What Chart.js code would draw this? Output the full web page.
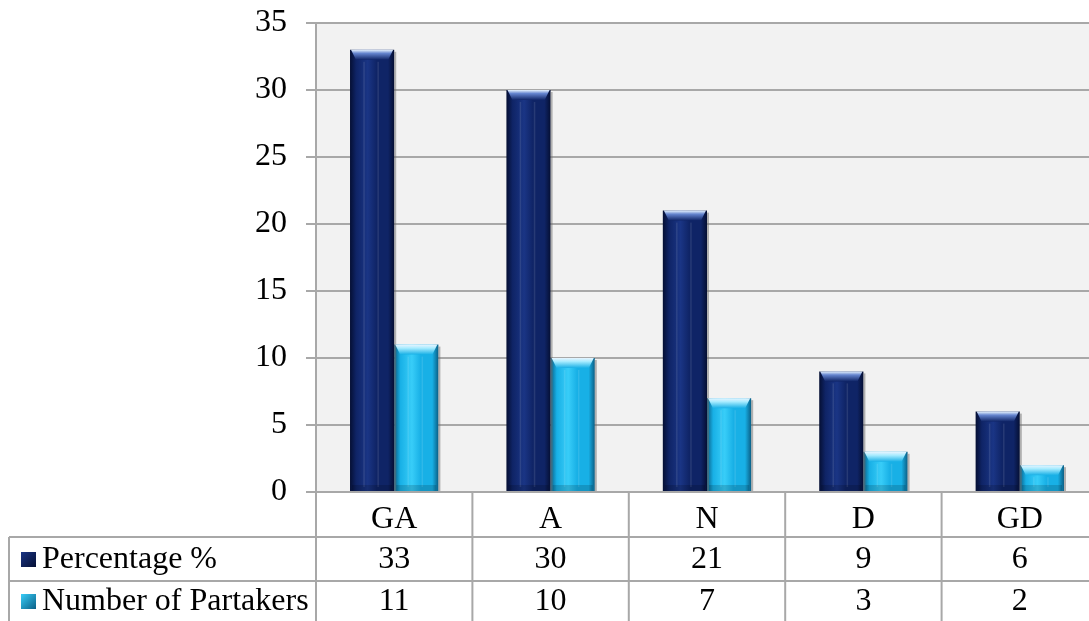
<!DOCTYPE html>
<html>
<head>
<meta charset="utf-8">
<script src="https://cdn.jsdelivr.net/npm/chart.js@4"></script>
<style>
  html, body { margin: 0; padding: 0; background: #ffffff; overflow: hidden; }
  #wrap { width: 1098px; height: 621px; }
</style>
</head>
<body>
<div id="wrap"><canvas id="c" width="1098" height="621"></canvas></div>
<script>
// Survey responses per answer category
const categories = ['GA', 'A', 'N', 'D', 'GD'];
const percentValues = [33, 30, 21, 9, 6];
const partakerValues = [11, 10, 7, 3, 2];
const seriesNames = ['Percentage %', 'Number of Partakers'];
const yTicks = [0, 5, 10, 15, 20, 25, 30, 35];

const FONT = "'Liberation Serif', 'Times New Roman', serif";
const FONT_SIZE = 32;
const GRID = '#a8a8a8';

// colour ramps for the bevelled bars: edge, mid, highlight
const palettes = [
  { edge: '#050f33', mid: '#0f2466', hi: '#1a3585', cap: '#6585cf' },
  { edge: '#0a5f86', mid: '#18b0e6', hi: '#38cdf8', cap: '#a8ecff' }
];

function barGradient(ctx, x0, x1, p) {
  const g = ctx.createLinearGradient(x0, 0, x1, 0);
  g.addColorStop(0, p.edge);
  g.addColorStop(0.14, p.mid);
  g.addColorStop(0.4, p.hi);
  g.addColorStop(0.6, p.mid);
  g.addColorStop(0.86, p.mid);
  g.addColorStop(1, p.edge);
  return g;
}

const plotBackground = {
  id: 'plotBackground',
  beforeDraw(chart) {
    const { ctx, chartArea: a } = chart;
    ctx.save();
    ctx.fillStyle = '#f2f2f2';
    ctx.fillRect(a.left, a.top, a.right - a.left, a.bottom - a.top);
    ctx.restore();
  }
};

// gives every bar its own horizontal shading and a light cap on top
const bevelBars = {
  id: 'bevelBars',
  beforeDatasetsDraw(chart) {
    const ctx = chart.ctx;
    chart.data.datasets.forEach((ds, di) => {
      chart.getDatasetMeta(di).data.forEach(el => {
        const x0 = el.x - el.width / 2, x1 = el.x + el.width / 2;
        const own = Object.assign({}, el.options);
        own.backgroundColor = barGradient(ctx, x0, x1, palettes[di]);
        el.options = own;
      });
    });
  },
  afterDatasetsDraw(chart) {
    const ctx = chart.ctx;
    ctx.save();
    chart.data.datasets.forEach((ds, di) => {
      const p = palettes[di];
      chart.getDatasetMeta(di).data.forEach(el => {
        const x0 = el.x - el.width / 2, x1 = el.x + el.width / 2, w = el.width;
        const top = el.y;
        // soft grey shadow on the right side
        ctx.fillStyle = 'rgba(110,110,110,0.5)';
        ctx.fillRect(x1, top + 2, 2, el.base - top - 2);
        // bevel cap
        const cap = ctx.createLinearGradient(0, top, 0, top + 10);
        cap.addColorStop(0, '#e8f4ff');
        cap.addColorStop(0.35, p.cap);
        cap.addColorStop(1, p.mid);
        ctx.fillStyle = cap;
        ctx.beginPath();
        ctx.moveTo(x0 + 1, top);
        ctx.lineTo(x1 - 1, top);
        ctx.lineTo(x1 - 6, top + 10);
        ctx.lineTo(x0 + 6, top + 10);
        ctx.closePath();
        ctx.fill();
        // thin inner stripes
        ctx.fillStyle = 'rgba(255,255,255,0.1)';
        ctx.fillRect(x0 + w * 0.3, top + 12, 1.5, el.base - top - 16);
        ctx.fillRect(x0 + w * 0.62, top + 12, 1.5, el.base - top - 16);
        // darker foot
        ctx.fillStyle = 'rgba(0,0,0,0.15)';
        ctx.fillRect(x0 + 2, el.base - 6, w - 4, 6);
      });
    });
    ctx.restore();
  }
};

// data table under the category axis
const dataTable = {
  id: 'dataTable',
  afterDraw(chart) {
    const ctx = chart.ctx;
    const xs = chart.scales.x;
    const a = chart.chartArea;
    const rowTop = [537, 581];
    const bottom = chart.height;
    const right = chart.width;
    const tableLeft = 9;
    const step = xs.getPixelForValue(1) - xs.getPixelForValue(0);
    ctx.save();
    ctx.strokeStyle = GRID;
    ctx.lineWidth = 2;
    ctx.beginPath();
    rowTop.forEach(y => { ctx.moveTo(tableLeft, y); ctx.lineTo(right, y); });
    ctx.moveTo(tableLeft, rowTop[0]);
    ctx.lineTo(tableLeft, bottom);
    for (let i = 0; i <= categories.length; i++) {
      const x = xs.getPixelForValue(0) - step / 2 + i * step;
      ctx.moveTo(x, a.bottom);
      ctx.lineTo(x, bottom);
    }
    ctx.stroke();

    const rows = [percentValues, partakerValues];
    ctx.font = FONT_SIZE + 'px ' + FONT;
    ctx.fillStyle = '#000000';
    ctx.textBaseline = 'middle';
    rows.forEach((vals, r) => {
      const cy = r === 0 ? 560 : 602;
      // legend key
      const kx = 21, ky = cy - 8, ks = 15;
      const g = ctx.createLinearGradient(kx, ky, kx + ks, ky + ks);
      g.addColorStop(0, palettes[r].hi);
      g.addColorStop(1, palettes[r].edge);
      ctx.fillStyle = g;
      ctx.fillRect(kx, ky, ks, ks);
      ctx.fillStyle = '#000000';
      ctx.textAlign = 'left';
      ctx.fillText(seriesNames[r], 42, cy);
      ctx.textAlign = 'center';
      vals.forEach((v, i) => ctx.fillText(String(v), xs.getPixelForValue(i), cy));
    });
    ctx.restore();
  }
};

new Chart(document.getElementById('c'), {
  type: 'bar',
  data: {
    labels: categories,
    datasets: [
      { label: seriesNames[0], data: percentValues, backgroundColor: palettes[0].mid, borderWidth: 0 },
      { label: seriesNames[1], data: partakerValues, backgroundColor: palettes[1].mid, borderWidth: 0 }
    ]
  },
  plugins: [plotBackground, bevelBars, dataTable],
  options: {
    responsive: false,
    animation: false,
    events: [],
    layout: { padding: { top: 23, left: 0, right: 0, bottom: 0 } },
    datasets: { bar: { categoryPercentage: 0.565, barPercentage: 1.0 } },
    plugins: { legend: { display: false }, tooltip: { enabled: false } },
    scales: {
      x: {
        grid: { display: false },
        border: { display: true, color: GRID, width: 2 },
        ticks: { color: '#000000', font: { family: FONT, size: FONT_SIZE }, padding: 0, maxRotation: 0 },
        afterFit(scale) { scale.height = 129; }
      },
      y: {
        min: 0, max: 35,
        afterBuildTicks(scale) { scale.ticks = yTicks.map(v => ({ value: v })); },
        grid: { color: GRID, lineWidth: 2, tickLength: 10, drawTicks: true },
        border: { display: true, color: GRID, width: 2 },
        ticks: { color: '#000000', font: { family: FONT, size: FONT_SIZE }, padding: 19 },
        afterFit(scale) { scale.width = 316; scale.paddingTop = 0; scale.paddingBottom = 0; }
      }
    }
  }
});
</script>
</body>
</html>
